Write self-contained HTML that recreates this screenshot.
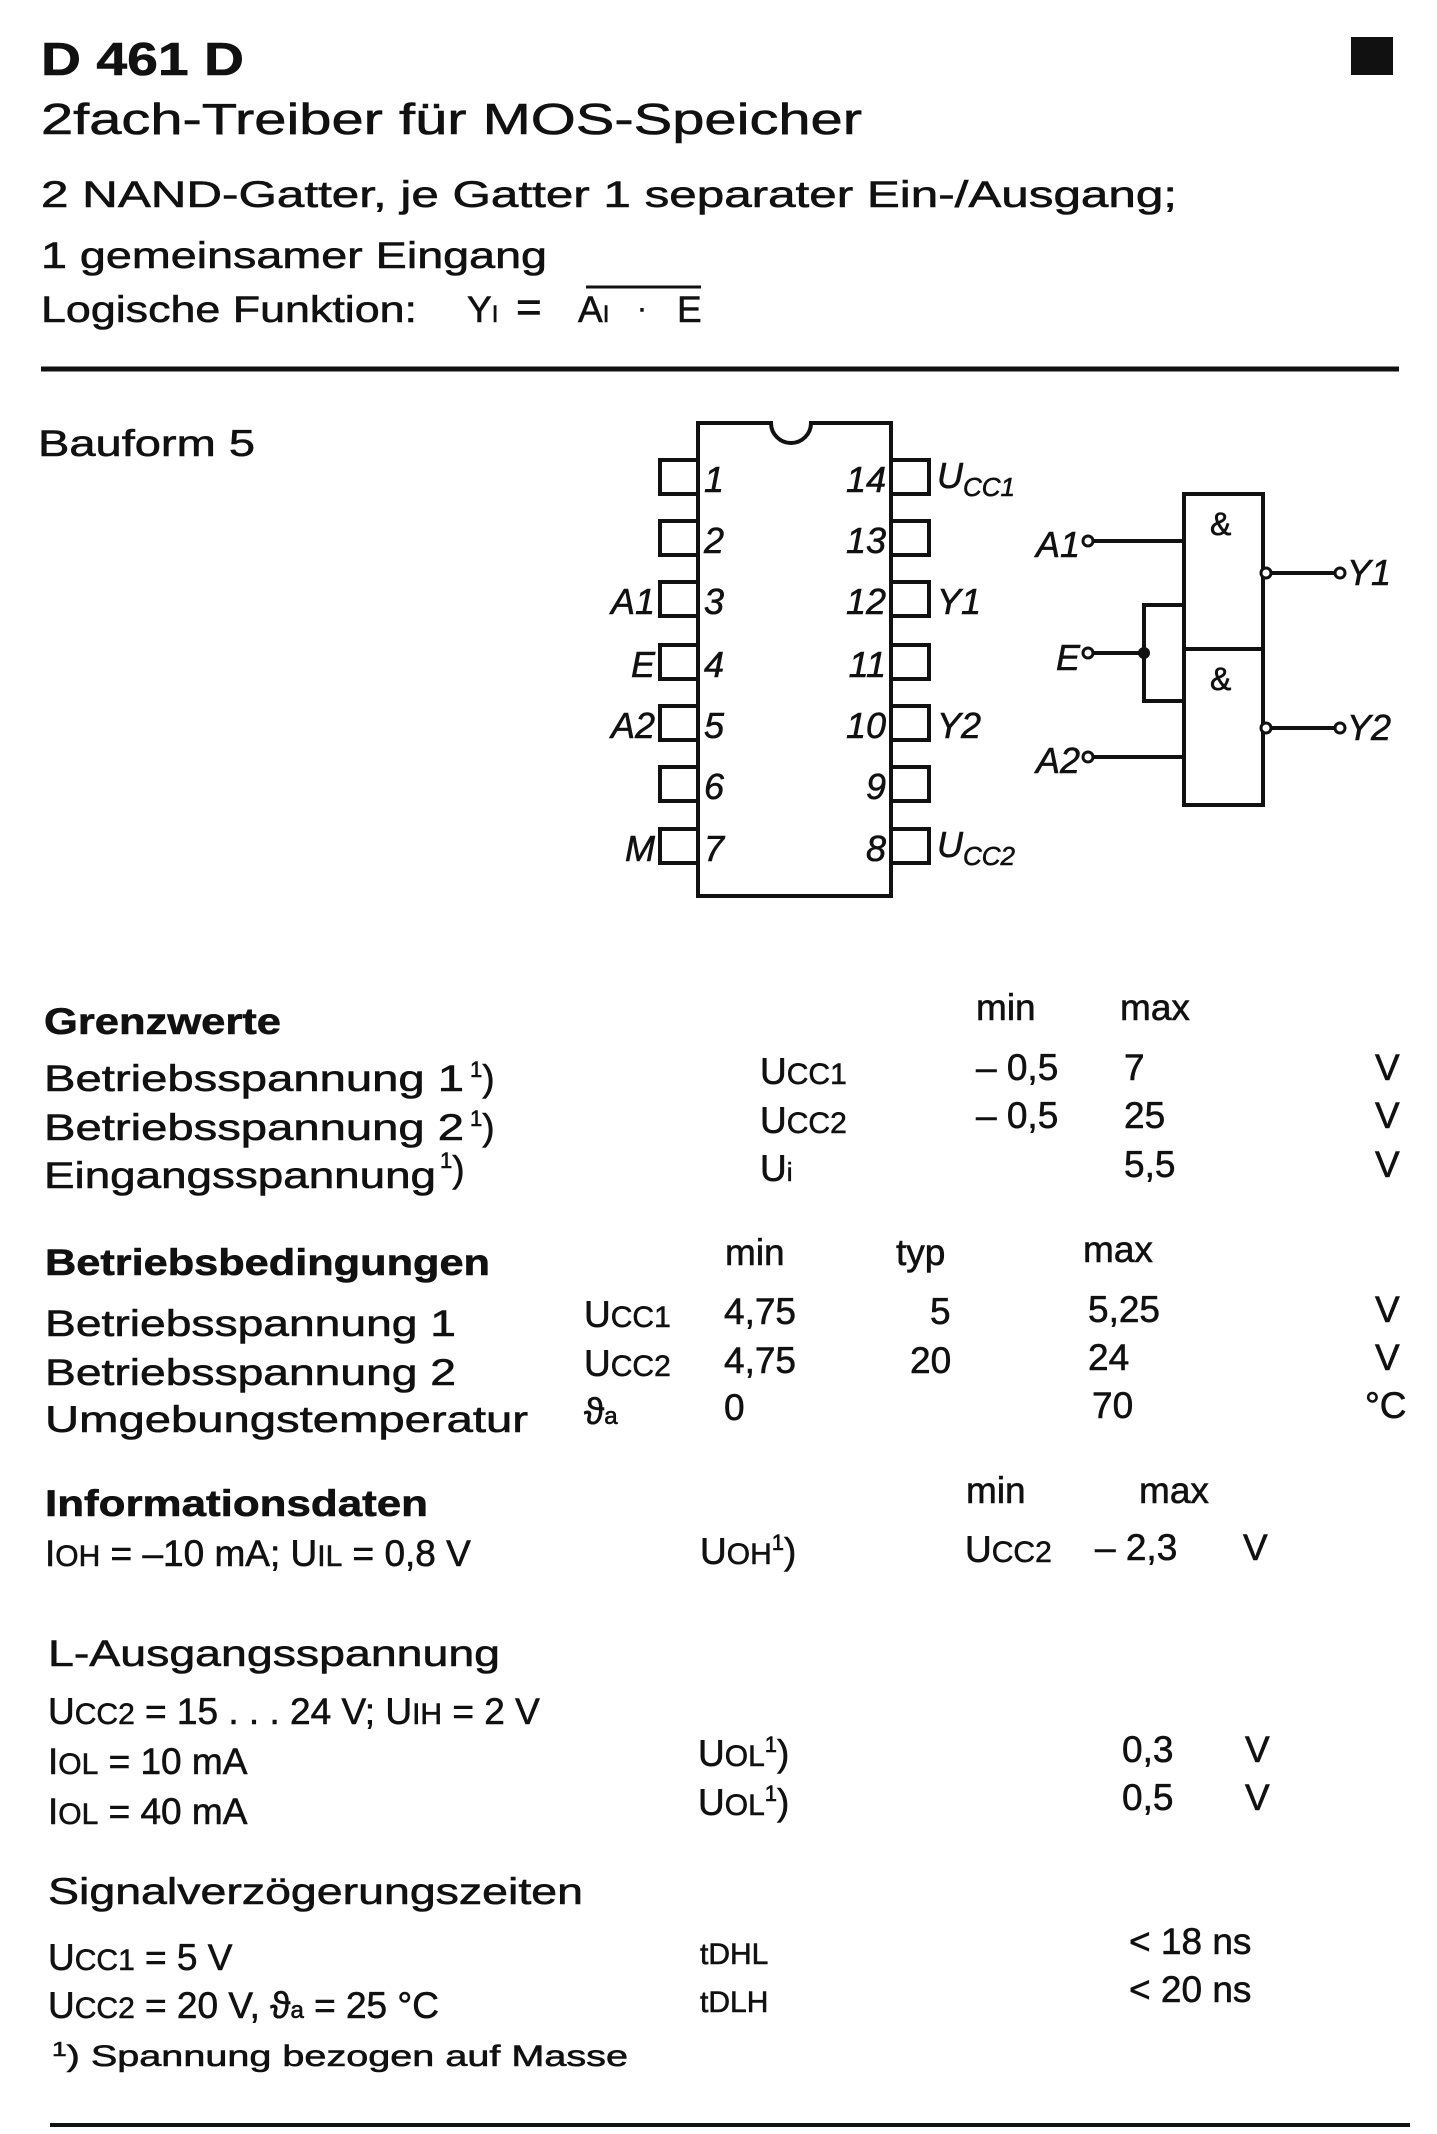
<!DOCTYPE html>
<html><head><meta charset="utf-8"><style>
html,body{margin:0;padding:0;background:#fff}
svg{display:block}
text{font-family:"Liberation Sans",sans-serif;fill:#111;stroke:#111;stroke-width:0.6}
.b{font-weight:bold}
.i{font-style:italic}
</style></head><body>
<svg width="1437" height="2134" viewBox="0 0 1437 2134" xmlns="http://www.w3.org/2000/svg">
<!-- header -->
<text x="41" y="75" class="b" font-size="46" textLength="203" lengthAdjust="spacingAndGlyphs">D 461 D</text>
<rect x="1351" y="37" width="42" height="38" fill="#111"/>
<text x="41" y="134" font-size="44" textLength="821" lengthAdjust="spacingAndGlyphs">2fach-Treiber für MOS-Speicher</text>
<text x="41" y="207" font-size="37" textLength="1136" lengthAdjust="spacingAndGlyphs">2 NAND-Gatter, je Gatter 1 separater Ein-/Ausgang;</text>
<text x="41" y="268" font-size="37" textLength="506" lengthAdjust="spacingAndGlyphs">1 gemeinsamer Eingang</text>
<text x="41" y="322" font-size="37" textLength="376" lengthAdjust="spacingAndGlyphs">Logische Funktion:</text>
<text x="467" y="322" font-size="37">Y<tspan font-size="24">I</tspan></text>
<text x="516" y="322" font-size="44">=</text>
<text x="578" y="322" font-size="37">A<tspan font-size="24">I</tspan></text>
<text x="637" y="318" font-size="30">·</text>
<text x="677" y="322" font-size="37">E</text>
<line x1="586" y1="287" x2="701" y2="287" stroke="#111" stroke-width="3"/>
<line x1="41" y1="369" x2="1399" y2="369" stroke="#111" stroke-width="5"/>
<text x="38" y="456" font-size="37" textLength="217" lengthAdjust="spacingAndGlyphs">Bauform 5</text>

<!-- IC -->
<g fill="none" stroke="#111" stroke-width="4">
<path d="M698,423 H771 A20,20 0 0 0 811,423 H891 V896 H698 Z"/>
<rect x="660" y="460" width="38" height="34"/>
<rect x="660" y="521" width="38" height="34"/>
<rect x="660" y="582" width="38" height="34"/>
<rect x="660" y="645" width="38" height="34"/>
<rect x="660" y="706" width="38" height="34"/>
<rect x="660" y="767" width="38" height="34"/>
<rect x="660" y="829" width="38" height="34"/>
<rect x="891" y="460" width="38" height="34"/>
<rect x="891" y="521" width="38" height="34"/>
<rect x="891" y="582" width="38" height="34"/>
<rect x="891" y="645" width="38" height="34"/>
<rect x="891" y="706" width="38" height="34"/>
<rect x="891" y="767" width="38" height="34"/>
<rect x="891" y="829" width="38" height="34"/>
</g>
<g class="i" font-size="36">
<text x="704" y="492">1</text><text x="704" y="553">2</text><text x="704" y="614">3</text><text x="704" y="677">4</text><text x="704" y="738">5</text><text x="704" y="799">6</text><text x="704" y="861">7</text>
<text x="886" y="492" text-anchor="end">14</text><text x="886" y="553" text-anchor="end">13</text><text x="886" y="614" text-anchor="end">12</text><text x="886" y="677" text-anchor="end">11</text><text x="886" y="738" text-anchor="end">10</text><text x="886" y="799" text-anchor="end">9</text><text x="886" y="861" text-anchor="end">8</text>
<text x="655" y="614" text-anchor="end">A1</text><text x="655" y="677" text-anchor="end">E</text><text x="655" y="738" text-anchor="end">A2</text><text x="655" y="861" text-anchor="end">M</text>
<text x="937" y="614">Y1</text><text x="937" y="738">Y2</text>
<text x="937" y="488">U<tspan font-size="26" dy="8">CC1</tspan></text>
<text x="937" y="857">U<tspan font-size="26" dy="8">CC2</tspan></text>
</g>

<!-- gates -->
<g fill="none" stroke="#111" stroke-width="4">
<rect x="1184" y="494" width="79" height="311"/>
<line x1="1184" y1="649" x2="1263" y2="649"/>
<line x1="1093" y1="541" x2="1184" y2="541"/>
<line x1="1093" y1="653" x2="1144" y2="653"/>
<polyline points="1184,605 1144,605 1144,701 1184,701"/>
<line x1="1093" y1="757" x2="1184" y2="757"/>
<line x1="1270" y1="573" x2="1335" y2="573"/>
<line x1="1270" y1="728" x2="1335" y2="728"/>
</g>
<g fill="#fff" stroke="#111" stroke-width="3">
<circle cx="1088" cy="541" r="5"/>
<circle cx="1088" cy="653" r="5"/>
<circle cx="1088" cy="757" r="5"/>
<circle cx="1266" cy="573" r="5"/>
<circle cx="1266" cy="728" r="5"/>
<circle cx="1340" cy="573" r="5"/>
<circle cx="1340" cy="728" r="5"/>
</g>
<circle cx="1144" cy="653" r="6" fill="#111"/>
<g class="i" font-size="36">
<text x="1080" y="557" text-anchor="end">A1</text>
<text x="1080" y="670" text-anchor="end">E</text>
<text x="1080" y="773" text-anchor="end">A2</text>
<text x="1347" y="585">Y1</text>
<text x="1347" y="740">Y2</text>
</g>
<text x="1210" y="535" font-size="32">&amp;</text>
<text x="1210" y="690" font-size="32">&amp;</text>

<!-- Grenzwerte -->
<g font-size="37">
<text x="44" y="1034" class="b" textLength="237" lengthAdjust="spacingAndGlyphs">Grenzwerte</text>
<text x="976" y="1020">min</text><text x="1120" y="1020">max</text>
<text x="44" y="1091" textLength="420" lengthAdjust="spacingAndGlyphs">Betriebsspannung 1</text><text x="470" y="1091"><tspan font-size="22" dy="-14">1</tspan><tspan dy="14">)</tspan></text>
<text x="44" y="1140" textLength="420" lengthAdjust="spacingAndGlyphs">Betriebsspannung 2</text><text x="470" y="1140"><tspan font-size="22" dy="-14">1</tspan><tspan dy="14">)</tspan></text>
<text x="44" y="1188" textLength="392" lengthAdjust="spacingAndGlyphs">Eingangsspannung</text><text x="440" y="1182"><tspan font-size="22" dy="-14">1</tspan><tspan dy="14">)</tspan></text>
<text x="760" y="1084">U<tspan font-size="30">CC1</tspan></text>
<text x="760" y="1133">U<tspan font-size="30">CC2</tspan></text>
<text x="760" y="1181">U<tspan font-size="26">i</tspan></text>
<text x="976" y="1080">– 0,5</text><text x="1124" y="1080">7</text>
<text x="976" y="1128">– 0,5</text><text x="1124" y="1128">25</text>
<text x="1124" y="1177">5,5</text>
<text x="1375" y="1080">V</text><text x="1375" y="1128">V</text><text x="1375" y="1177">V</text>

<!-- Betriebsbedingungen -->
<text x="45" y="1275" class="b" textLength="445" lengthAdjust="spacingAndGlyphs">Betriebsbedingungen</text>
<text x="725" y="1265">min</text><text x="896" y="1265">typ</text><text x="1083" y="1262">max</text>
<text x="45" y="1336" textLength="411" lengthAdjust="spacingAndGlyphs">Betriebsspannung 1</text>
<text x="45" y="1385" textLength="411" lengthAdjust="spacingAndGlyphs">Betriebsspannung 2</text>
<text x="45" y="1432" textLength="483" lengthAdjust="spacingAndGlyphs">Umgebungstemperatur</text>
<text x="584" y="1327">U<tspan font-size="30">CC1</tspan></text>
<text x="584" y="1376">U<tspan font-size="30">CC2</tspan></text>
<text x="584" y="1424">ϑ<tspan font-size="24">a</tspan></text>
<text x="724" y="1324">4,75</text><text x="930" y="1324">5</text><text x="1088" y="1322">5,25</text><text x="1375" y="1322">V</text>
<text x="724" y="1373">4,75</text><text x="910" y="1373">20</text><text x="1088" y="1370">24</text><text x="1375" y="1370">V</text>
<text x="724" y="1420">0</text><text x="1092" y="1418">70</text><text x="1365" y="1418">°C</text>

<!-- Informationsdaten -->
<text x="45" y="1516" class="b" textLength="383" lengthAdjust="spacingAndGlyphs">Informationsdaten</text>
<text x="966" y="1503">min</text><text x="1139" y="1503">max</text>
<text x="45" y="1566">I<tspan font-size="30">OH</tspan> = –10 mA; U<tspan font-size="30">IL</tspan> = 0,8 V</text>
<text x="700" y="1564">U<tspan font-size="30">OH</tspan><tspan font-size="22" dy="-14">1</tspan><tspan dy="14">)</tspan></text>
<text x="965" y="1562">U<tspan font-size="30">CC2</tspan></text>
<text x="1095" y="1560">– 2,3</text><text x="1243" y="1560">V</text>

<!-- L-Ausgangsspannung -->
<text x="48" y="1666" textLength="452" lengthAdjust="spacingAndGlyphs">L-Ausgangsspannung</text>
<text x="48" y="1724">U<tspan font-size="30">CC2</tspan> = 15 . . . 24 V; U<tspan font-size="30">IH</tspan> = 2 V</text>
<text x="48" y="1774">I<tspan font-size="30">OL</tspan> = 10 mA</text>
<text x="48" y="1824">I<tspan font-size="30">OL</tspan> = 40 mA</text>
<text x="698" y="1766">U<tspan font-size="30">OL</tspan><tspan font-size="22" dy="-14">1</tspan><tspan dy="14">)</tspan></text>
<text x="698" y="1815">U<tspan font-size="30">OL</tspan><tspan font-size="22" dy="-14">1</tspan><tspan dy="14">)</tspan></text>
<text x="1122" y="1762">0,3</text><text x="1245" y="1762">V</text>
<text x="1122" y="1810">0,5</text><text x="1245" y="1810">V</text>

<!-- Signal -->
<text x="48" y="1904" textLength="535" lengthAdjust="spacingAndGlyphs">Signalverzögerungszeiten</text>
<text x="48" y="1970">U<tspan font-size="30">CC1</tspan> = 5 V</text>
<text x="48" y="2018">U<tspan font-size="30">CC2</tspan> = 20 V,  ϑ<tspan font-size="24">a</tspan> = 25 °C</text>
<text x="700" y="1964" font-size="30">t<tspan>DHL</tspan></text>
<text x="700" y="2012" font-size="30">t<tspan>DLH</tspan></text>
<text x="1129" y="1954">&lt; 18 ns</text>
<text x="1129" y="2002">&lt; 20 ns</text>
<text x="52" y="2066" font-size="30" textLength="576" lengthAdjust="spacingAndGlyphs"><tspan font-size="20" dy="-10">1</tspan><tspan dy="10">)  Spannung bezogen auf Masse</tspan></text>
</g>
<line x1="50" y1="2125" x2="1410" y2="2125" stroke="#111" stroke-width="4"/>
</svg>
</body></html>
